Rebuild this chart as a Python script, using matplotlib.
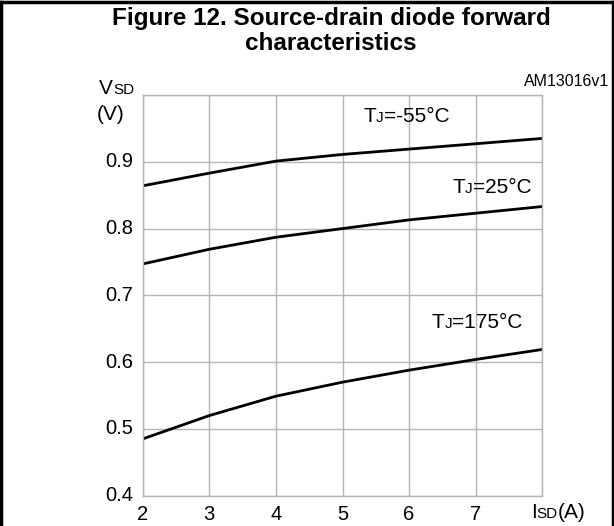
import numpy as np
import matplotlib
matplotlib.use("Agg")
import matplotlib.pyplot as plt
from matplotlib.offsetbox import TextArea, HPacker, AnnotationBbox

plt.rcParams['font.family'] = ['Liberation Sans', 'DejaVu Sans']

# data
isd = [2, 3, 4, 5, 6, 7, 8]
vsd_m55 = [0.864, 0.883, 0.901, 0.911, 0.919, 0.927, 0.935]
vsd_25 = [0.747, 0.769, 0.787, 0.800, 0.813, 0.823, 0.833]
vsd_175 = [0.485, 0.520, 0.549, 0.570, 0.588, 0.604, 0.619]
x_ticks = [2, 3, 4, 5, 6, 7]
y_ticks = [0.4, 0.5, 0.6, 0.7, 0.8, 0.9]
curve_labels = ['-55°C', '25°C', '175°C']
label_pos = [(5.31, 0.9675), (6.65, 0.862), (6.34, 0.660)]

W, H = 614, 526
fig = plt.figure(figsize=(W/100, H/100), dpi=100)


def px(x, y):
    return x / W, 1 - y / H


ax = fig.add_axes([142.7/W, 1 - 495.7/H, (542.3-142.7)/W, (495.7-95)/H])
ax.set_xlim(2, 8)
ax.set_ylim(0.4, 1.0)
ax.set_xticks([2, 3, 4, 5, 6, 7, 8])
ax.set_yticks([0.4, 0.5, 0.6, 0.7, 0.8, 0.9, 1.0])
ax.grid(True, color='#b4b4b4', linewidth=1.0)
ax.tick_params(length=0, labelbottom=False, labelleft=False)
for s in ax.spines.values():
    s.set_color('#b4b4b4')
    s.set_linewidth(1.0)

for v in [vsd_m55, vsd_25, vsd_175]:
    ax.plot(isd, v, color='black', linewidth=2.0, solid_capstyle='butt')

# tick labels
for t in x_ticks:
    ax.annotate(str(t), (t, 0.4), xytext=(0, -6.5), textcoords='offset points',
                fontsize=14.5, ha='center', va='top', annotation_clip=False)
for t in y_ticks:
    ax.annotate('%.1f' % t, (2, t), xytext=(-7, 0), textcoords='offset points',
                fontsize=14.5, ha='right', va='center', annotation_clip=False)


def packed(parts, xy, xycoords):
    kids = [TextArea(s, textprops=dict(fontsize=fs, color='black')) for s, fs in parts]
    box = HPacker(children=kids, align='baseline', pad=0, sep=0)
    ab = AnnotationBbox(box, xy, xycoords=xycoords, frameon=False,
                        box_alignment=(0, 0.5), pad=0, annotation_clip=False)
    fig.add_artist(ab)


for lab, pos in zip(curve_labels, label_pos):
    packed([('T', 15), ('J', 11), ('=' + lab, 15)], pos, ax.transData)

# axis titles
packed([('V', 15), ('SD', 11)], px(99, 88), fig.transFigure)
fig.text(*px(97, 115), '(V)', fontsize=15, ha='left', va='center')
packed([('I', 15), ('SD', 11), ('(A)', 15)], px(531, 512), fig.transFigure)

fig.text(*px(609, 81), 'AM13016v1', fontsize=11.5, ha='right', va='center')

# title
fig.text(*px(331, 18), 'Figure 12. Source-drain diode forward', fontsize=17.5,
         fontweight='bold', ha='center', va='center')
fig.text(*px(331, 44), 'characteristics', fontsize=17.5,
         fontweight='bold', ha='center', va='center')

# outer frame
fig.add_artist(plt.Line2D([1.5/W, 1.5/W], [0, 1 - 1.5/H], color='black', linewidth=2.5))
fig.add_artist(plt.Line2D([1.5/W, 1 - 1.5/W], [1 - 1.5/H, 1 - 1.5/H], color='black', linewidth=2.5))
fig.add_artist(plt.Line2D([1 - 1.5/W, 1 - 1.5/W], [0, 1 - 1.5/H], color='black', linewidth=2.5))

fig.savefig('out.png', dpi=100)
